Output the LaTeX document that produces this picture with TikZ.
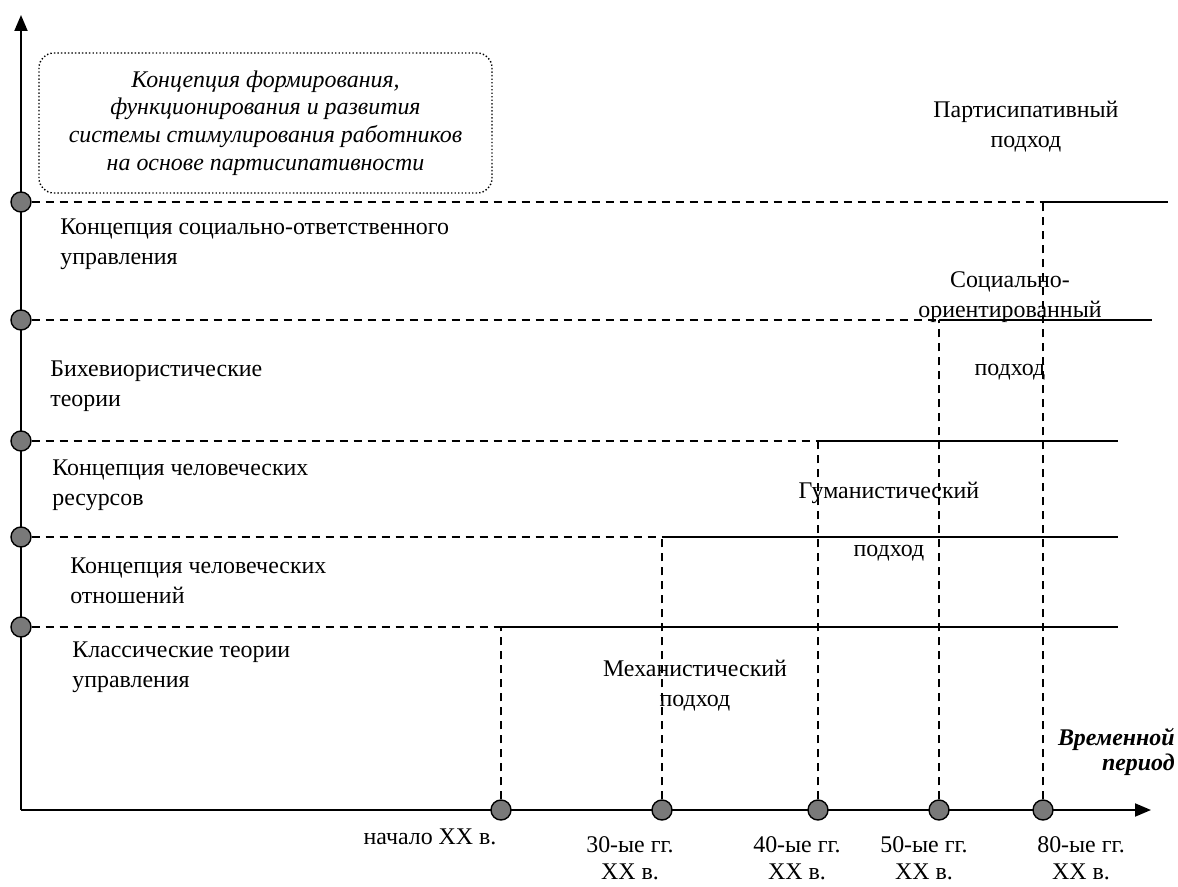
\documentclass[tikz,border=0pt]{standalone}
\usepackage{fontspec}
\setmainfont{Liberation Serif}
\usetikzlibrary{arrows.meta}

\begin{document}
\begin{tikzpicture}[
            dot/.style={draw, circle, fill=gray!95!black, line width=0.8pt, minimum size=0.4cm, inner sep=0pt},
            axis/.style={line width=1.1pt, -{Triangle[length=0.32cm, width=0.26cm]}},
            guide/.style={line width=0.8pt, dash pattern=on 0.16cm off 0.12cm},
            era/.style={line width=1.1pt},
            lbl/.style={font=\fontsize{13.6}{17}\selectfont, inner sep=0pt, align=left, anchor=west},
            tag/.style={font=\fontsize{13.6}{17}\selectfont, inner sep=0pt, align=center}
        ]
        \useasboundingbox (0,0) rectangle (23.56,17.72);

        % --- axes ---
        \coordinate (O) at (0.42, 1.52);
        \coordinate (ytop) at (0.42, 17.42);
        \coordinate (xend) at (23.02, 1.52);
        \draw[axis] (O)--(ytop);
        \draw[axis] (O)--(xend);

        % --- concepts on the vertical axis ---
        \node[dot] (L1) at (0.42, 13.68) {};
        \node[dot] (L2) at (0.42, 11.32) {};
        \node[dot] (L3) at (0.42, 8.90) {};
        \node[dot] (L4) at (0.42, 6.98) {};
        \node[dot] (L5) at (0.42, 5.18) {};

        % --- periods on the time axis ---
        \node[dot] (T1) at (20.86, 1.52) {};
        \node[dot] (T2) at (18.78, 1.52) {};
        \node[dot] (T3) at (16.36, 1.52) {};
        \node[dot] (T4) at (13.24, 1.52) {};
        \node[dot] (T5) at (10.02, 1.52) {};

        % --- corners and free ends ---
        \coordinate (C1) at (T1 |- L1);
        \coordinate (C2) at (T2 |- L2);
        \coordinate (C3) at (T3 |- L3);
        \coordinate (C4) at (T4 |- L4);
        \coordinate (C5) at (T5 |- L5);
        \coordinate (E1) at (23.36, 13.68);
        \coordinate (E2) at (23.04, 11.32);
        \coordinate (E3) at (22.36, 8.90);
        \coordinate (E4) at (22.36, 6.98);
        \coordinate (E5) at (22.36, 5.18);

        \draw[guide] (L1)--(C1);
        \draw[guide] (L2)--(C2);
        \draw[guide] (L3)--(C3);
        \draw[guide] (L4)--(C4);
        \draw[guide] (L5)--(C5);
        \draw[guide] (T1)--(C1);
        \draw[guide] (T2)--(C2);
        \draw[guide] (T3)--(C3);
        \draw[guide] (T4)--(C4);
        \draw[guide] (T5)--(C5);
        \draw[era] (C1)--(E1);
        \draw[era] (C2)--(E2);
        \draw[era] (C3)--(E3);
        \draw[era] (C4)--(E4);
        \draw[era] (C5)--(E5);

        % --- concept labels ---
        \node[lbl] (soc) at (1.20, 12.84) {Концепция социально-ответственного\\управления};
        \node[lbl] (beh) at (1.00, 10.00) {Бихевиористические\\теории};
        \node[lbl] (res) at (1.04, 8.02) {Концепция человеческих\\ресурсов};
        \node[lbl] (rel) at (1.40, 6.10) {Концепция человеческих\\отношений};
        \node[lbl] (cls) at (1.44, 4.37) {Классические теории\\управления};
        \node[tag, draw, line width=0.8pt, dash pattern=on 0.8pt off 1.2pt, rounded corners=0.3cm,
              font=\fontsize{13.6}{15.8}\selectfont\itshape,
              minimum width=9.06cm, minimum height=2.8cm] (top) at (5.31, 15.26)
              {Концепция формирования,\\функционирования и развития\\системы стимулирования работников\\на основе партисипативности};

        % --- approach labels ---
        \node[tag] (part) at (20.52, 15.18) {Партисипативный\\подход};
        \node[tag] (sor) at (20.20, 11.20) {Социально-\\ориентированный\\[0.56cm]подход};
        \node[tag] (hum) at (17.78, 7.29) {Гуманистический\\[0.56cm]подход};
        \node[tag] (mech) at (13.90, 4.00) {Механистический\\подход};

        % --- period labels ---
        \node[tag] (p5) at (8.60, 0.98) {начало XX в.};
        \node[tag, font=\fontsize{13.6}{15.3}\selectfont] (p4) at (12.60, 0.56) {30-ые гг.\\XX в.};
        \node[tag, font=\fontsize{13.6}{15.3}\selectfont] (p3) at (15.94, 0.56) {40-ые гг.\\XX в.};
        \node[tag, font=\fontsize{13.6}{15.3}\selectfont] (p2) at (18.48, 0.56) {50-ые гг.\\XX в.};
        \node[tag, font=\fontsize{13.6}{15.3}\selectfont] (p1) at (21.62, 0.56) {80-ые гг.\\XX в.};
        \node[tag, align=right, anchor=east, font=\fontsize{13.6}{14.2}\selectfont\bfseries\itshape] (time) at (23.50, 2.68) {Временной\\период};
        \end{tikzpicture}
\end{document}
